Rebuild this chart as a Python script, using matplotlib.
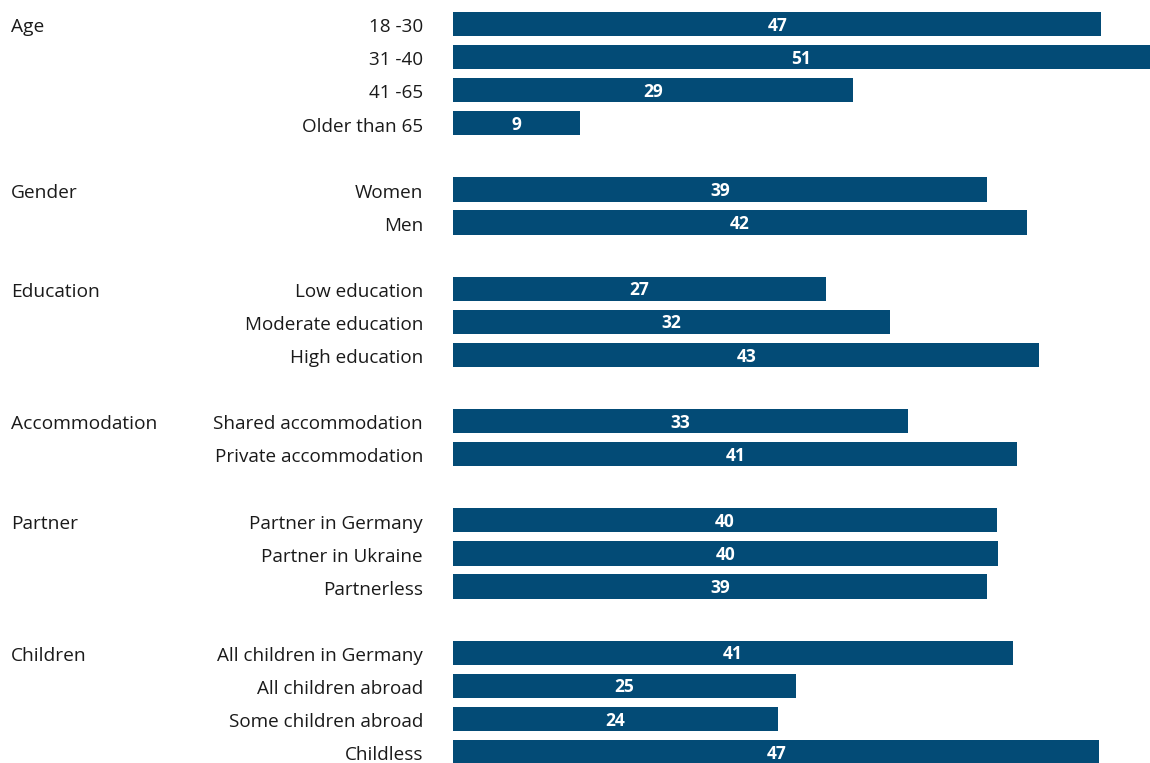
import matplotlib.pyplot as plt
from matplotlib.transforms import blended_transform_factory

# groups and their categories, top to bottom
groups = ["Age", "Gender", "Education", "Accommodation", "Partner", "Children"]
categories = [
    ["18 -30", "31 -40", "41 -65", "Older than 65"],
    ["Women", "Men"],
    ["Low education", "Moderate education ", "High education"],
    ["Shared accommodation", "Private accommodation"],
    ["Partner in Germany ", "Partner in Ukraine", "Partnerless"],
    ["All children in Germany", "All children abroad", "Some children abroad", "Childless"],
]
values = [
    [47.45, 51.0, 29.3, 9.3],
    [39.1, 42.0],
    [27.3, 32.0, 42.9],
    [33.3, 41.3],
    [39.8, 39.9, 39.1],
    [41.0, 25.1, 23.8, 47.3],
]

BAR_COLOR = "#034b76"
W, H = 1150, 763
plt.rcParams["font.family"] = ["Open Sans", "DejaVu Sans"]

fig = plt.figure(figsize=(W / 100, H / 100), dpi=100)
bar_x0 = 453
left = bar_x0 / W
ax = fig.add_axes([left, 0, 1 - left, 1])

row_px = 33.09
first_center = 24
ax.set_ylim((H - first_center) / row_px, -first_center / row_px)
ax.set_xlim(0, 51)
ax.set_axis_off()

trans = blended_transform_factory(ax.transAxes, ax.transData)
ax_w = W - bar_x0
cat_x = (423 - bar_x0) / ax_w
grp_x = (11 - bar_x0) / ax_w
txt_dy = 0.1  # labels sit slightly below the bar centre

row = 0
for g, cats, vals in zip(groups, categories, values):
    ax.text(grp_x, row + txt_dy, g, transform=trans, ha="left", va="center",
            fontsize=13.8, color="#1a1a1a")
    for c, v in zip(cats, vals):
        ax.barh(row, v, height=0.73, color=BAR_COLOR, left=0)
        ax.text(cat_x, row + txt_dy, c.rstrip(), transform=trans, ha="right",
                va="center", fontsize=13.6, color="#1a1a1a")
        ax.text(v / 2, row + 0.05, f"{v:.0f}", ha="center", va="center",
                fontsize=12.5, fontweight="bold", color="white")
        row += 1
    row += 1

fig.savefig("out.png", dpi=100)
